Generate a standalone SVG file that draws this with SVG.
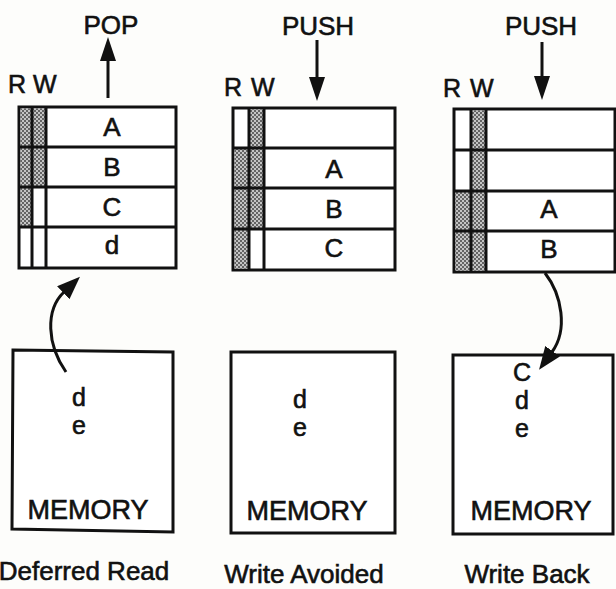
<svg xmlns="http://www.w3.org/2000/svg" width="616" height="589" viewBox="0 0 616 589">
<style>
  text { font-family: "Liberation Sans", Arial, Helvetica, sans-serif; fill: #111; stroke: #111; stroke-width: 0.6; }
  .t { font-size: 26px; text-anchor: middle; }
  .m { font-size: 25px; text-anchor: middle; }
  .rw { font-size: 25px; }
  .mem { font-size: 27px; text-anchor: middle; }
  .cap { font-size: 26px; text-anchor: middle; }
  .box { fill: #fff; stroke: #111; stroke-width: 3; }
  .ln { stroke: #111; stroke-width: 3; fill: none; }
  .dot { fill: url(#stipple); }
  .arrow { stroke: #111; stroke-width: 3; fill: none; }
  .head { fill: #111; }
</style>
<defs>
  <pattern id="stipple" width="4" height="4" patternUnits="userSpaceOnUse">
    <rect width="4" height="4" fill="#c4c4c4"/>
    <circle cx="1" cy="1" r="1" fill="#444"/>
    <circle cx="3" cy="3" r="1" fill="#444"/>
  </pattern>
  <marker id="ah" markerUnits="userSpaceOnUse" markerWidth="24" markerHeight="18" refX="1" refY="9" orient="auto">
    <path d="M0,0 L23,9 L0,18 z" fill="#111"/>
  </marker>
</defs>
<rect width="616" height="589" fill="#fdfdfb"/>

<!-- Stack 1: Deferred Read -->
<g id="stack-deferred-read">
  <rect class="box" x="19" y="107" width="157" height="161"/>
  <rect class="dot" x="20.5" y="108.5" width="11.5" height="38"/>
  <rect class="dot" x="32" y="108.5" width="14" height="38"/>
  <rect class="dot" x="20.5" y="147" width="11.5" height="40"/>
  <rect class="dot" x="32" y="147" width="14" height="40"/>
  <rect class="dot" x="20.5" y="187" width="11.5" height="40"/>
  <line class="ln" x1="19" y1="147" x2="176" y2="147"/>
  <line class="ln" x1="19" y1="187" x2="176" y2="187"/>
  <line class="ln" x1="19" y1="227" x2="176" y2="227"/>
  <line class="ln" x1="32" y1="107" x2="32" y2="268"/>
  <line class="ln" x1="46" y1="107" x2="46" y2="268"/>
  <text class="t" x="112" y="136">A</text>
  <text class="t" x="112" y="176">B</text>
  <text class="t" x="112" y="216">C</text>
  <text class="t" x="112" y="254">d</text>
  <text class="rw" x="8" y="93">R</text>
  <text class="rw" x="33" y="93">W</text>
  <text class="t" x="111" y="34">POP</text>
</g>

<!-- Stack 2: Write Avoided -->
<g id="stack-write-avoided">
  <rect class="box" x="233" y="108" width="162" height="162"/>
  <rect class="dot" x="249" y="109.5" width="15" height="38.5"/>
  <rect class="dot" x="234.5" y="148" width="14.5" height="40"/>
  <rect class="dot" x="249" y="148" width="15" height="40"/>
  <rect class="dot" x="234.5" y="188" width="14.5" height="41"/>
  <rect class="dot" x="249" y="188" width="15" height="41"/>
  <rect class="dot" x="234.5" y="229" width="14.5" height="39.5"/>
  <line class="ln" x1="233" y1="148" x2="395" y2="148"/>
  <line class="ln" x1="233" y1="188" x2="395" y2="188"/>
  <line class="ln" x1="233" y1="229" x2="395" y2="229"/>
  <line class="ln" x1="249" y1="108" x2="249" y2="270"/>
  <line class="ln" x1="264" y1="108" x2="264" y2="270"/>
  <text class="t" x="334" y="178">A</text>
  <text class="t" x="334" y="218">B</text>
  <text class="t" x="334" y="257">C</text>
  <text class="rw" x="224" y="96">R</text>
  <text class="rw" x="251" y="96">W</text>
  <text class="t" x="318" y="35">PUSH</text>
</g>

<!-- Stack 3: Write Back -->
<g id="stack-write-back">
  <rect class="box" x="454" y="109" width="161" height="163"/>
  <rect class="dot" x="471" y="110.5" width="15" height="39.5"/>
  <rect class="dot" x="471" y="150" width="15" height="41"/>
  <rect class="dot" x="455.5" y="191" width="15.5" height="40"/>
  <rect class="dot" x="471" y="191" width="15" height="40"/>
  <rect class="dot" x="455.5" y="231" width="15.5" height="39.5"/>
  <rect class="dot" x="471" y="231" width="15" height="39.5"/>
  <line class="ln" x1="454" y1="150" x2="615" y2="150"/>
  <line class="ln" x1="454" y1="191" x2="615" y2="191"/>
  <line class="ln" x1="454" y1="231" x2="615" y2="231"/>
  <line class="ln" x1="471" y1="109" x2="471" y2="272"/>
  <line class="ln" x1="486" y1="109" x2="486" y2="272"/>
  <text class="t" x="549" y="218">A</text>
  <text class="t" x="549" y="258">B</text>
  <text class="rw" x="443" y="97">R</text>
  <text class="rw" x="470" y="97">W</text>
  <text class="t" x="541" y="35">PUSH</text>
</g>

<!-- Memory 1 -->
<g id="memory-deferred-read">
  <polygon class="box" points="13,350 173,352 173,532 12,529"/>
  <text class="m" x="79" y="406">d</text>
  <text class="m" x="79" y="434">e</text>
  <text class="mem" x="88" y="519">MEMORY</text>
</g>

<!-- Memory 2 -->
<g id="memory-write-avoided">
  <rect class="box" x="231" y="352" width="164" height="181"/>
  <text class="m" x="300" y="408">d</text>
  <text class="m" x="300" y="436">e</text>
  <text class="mem" x="307" y="520">MEMORY</text>
</g>

<!-- Memory 3 -->
<g id="memory-write-back">
  <rect class="box" x="453" y="355" width="160" height="179"/>
  <text class="m" x="522" y="381">C</text>
  <text class="m" x="522" y="409">d</text>
  <text class="m" x="522" y="437">e</text>
  <text class="mem" x="531" y="520">MEMORY</text>
</g>

<!-- Captions -->
<g id="captions">
  <text class="cap" x="84" y="580">Deferred Read</text>
  <text class="cap" x="304" y="583">Write Avoided</text>
  <text class="cap" x="527" y="583">Write Back</text>
</g>

<!-- Connectors -->
<g id="connectors">
  <line class="arrow" x1="108" y1="98" x2="108" y2="58"/>
  <polygon class="head" points="108,37 100,61 116,61"/>
  <line class="arrow" x1="317" y1="40" x2="317" y2="79"/>
  <polygon class="head" points="317,101 309,77 325,77"/>
  <line class="arrow" x1="542" y1="42" x2="542" y2="78"/>
  <polygon class="head" points="542,100 534,76 550,76"/>
  <path class="arrow" d="M66,372 C47,345 45,310 64,292" marker-end="url(#ah)"/>
  <path class="arrow" d="M545,273 C562,295 568,330 552,352" marker-end="url(#ah)"/>
</g>
</svg>
